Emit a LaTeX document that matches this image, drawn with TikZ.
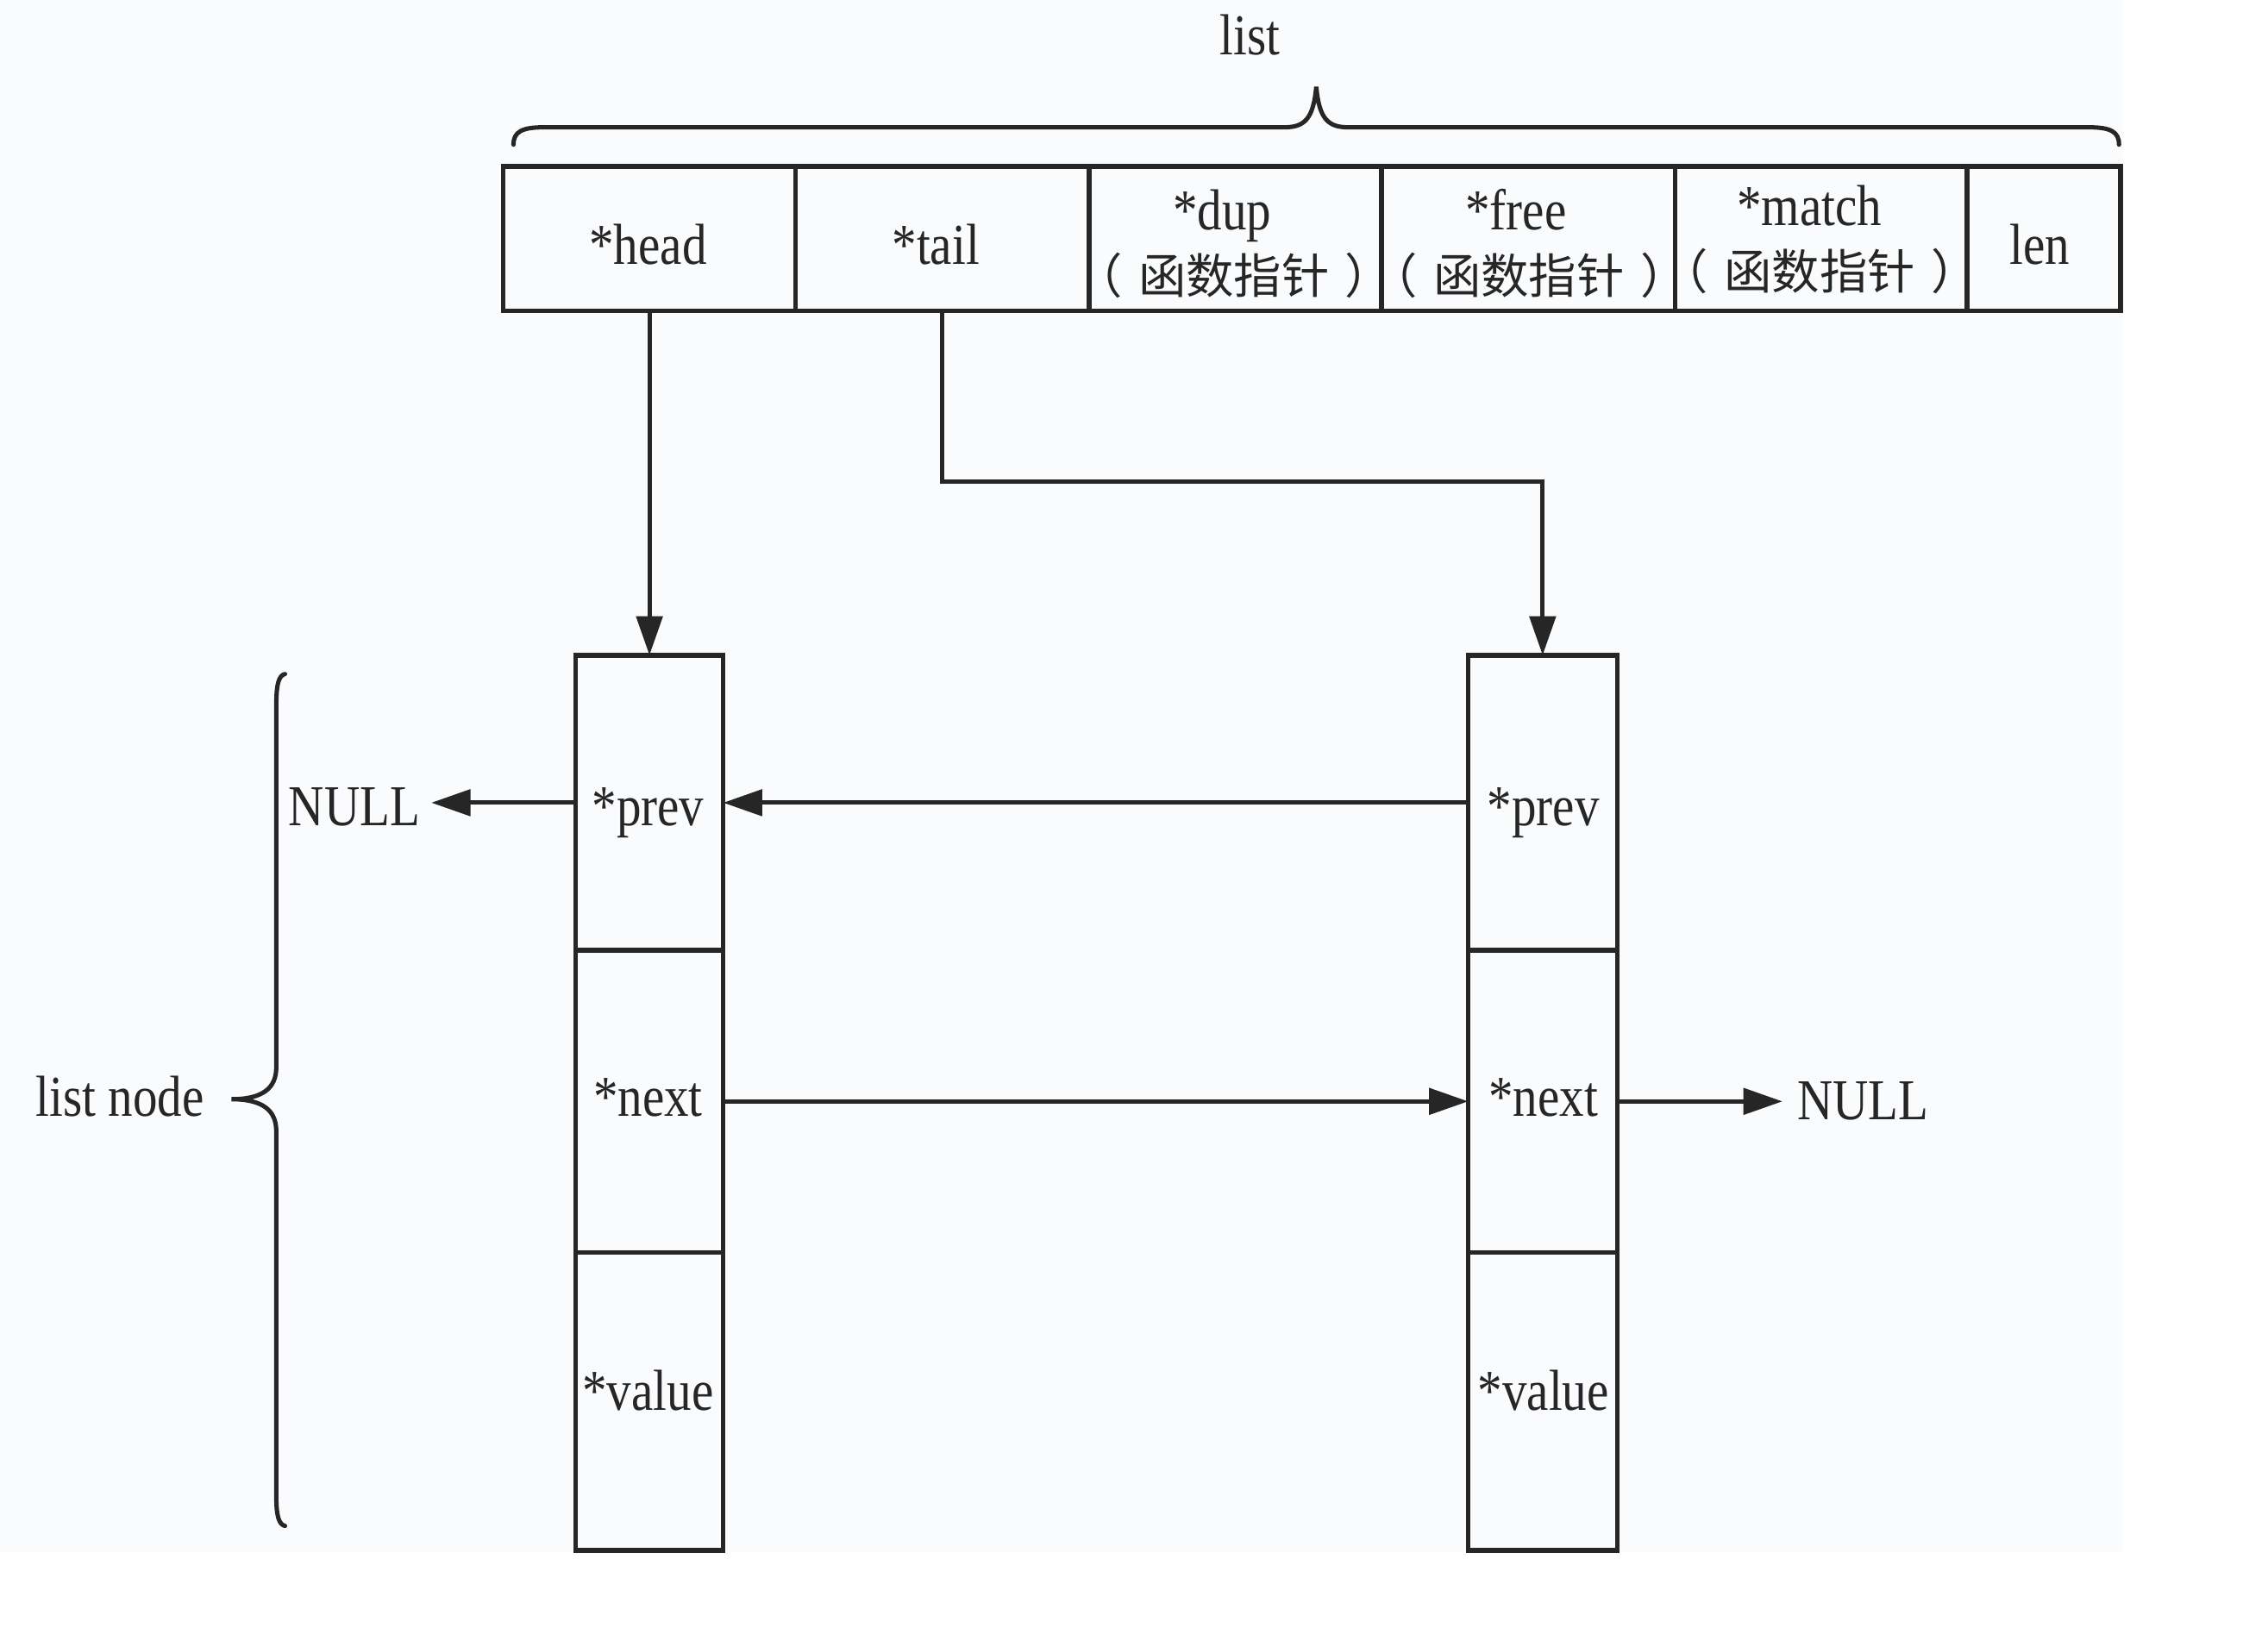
\documentclass[tikz,border=0pt]{standalone}
\usepackage{fontspec}
\setmainfont{Liberation Serif}[FakeStretch=0.85]
\newfontfamily\cjk{Noto Sans CJK SC}
\usetikzlibrary{arrows.meta}
\definecolor{bgc}{HTML}{FAFBFD}
\definecolor{ink}{HTML}{262626}
\newcommand{\fnptr}{（\hspace{5.5pt}函数指针\hspace{5.5pt}）}
\begin{document}
\begin{tikzpicture}[x=0.5pt,y=-0.5pt,
  box/.style={draw=ink,line width=1.6pt,inner sep=0pt,outer sep=0pt,minimum height=50pt},
  col/.style={draw=ink,line width=1.6pt,inner sep=0pt,outer sep=0pt},
  txt/.style={text=ink,font=\fontsize{20}{24}\selectfont,inner sep=0pt,anchor=base},
  zh/.style={text=ink,font=\cjk\fontsize{16.5}{19}\selectfont,inner sep=0pt,anchor=base},
  arr/.style={draw=ink,line width=1.5pt,-{Triangle[length=13.5pt,width=9pt]}},
  brc/.style={draw=ink,line width=1.5pt,line cap=round}]
\useasboundingbox (0,0) rectangle (1568,1125.6);
\fill[white] (0,0) rectangle (1568,1125.6);
\fill[bgc] (0,0) rectangle (1468,1073);

% top structure cells
\node[box,minimum width=101pt] (head) at (449,165) {};
\node[box,minimum width=101.5pt] (tail) at (651.5,165) {};
\node[box,minimum width=101pt] (dup) at (854,165) {};
\node[box,minimum width=101.5pt] (free) at (1056.5,165) {};
\node[box,minimum width=101pt] (match) at (1259,165) {};
\node[box,minimum width=53pt] (len) at (1413,165) {};

\node[txt] (headT) at (448,183) {*head};
\node[txt] (tailT) at (647,183) {*tail};
\node[txt] (dupT) at (845,159) {*dup};
\node[zh] (dupZ) at (853,203) {\fnptr};
\node[txt] (freeT) at (1048,159) {*free};
\node[zh] (freeZ) at (1057,203) {\fnptr};
\node[txt] (matchT) at (1251,156) {*match};
\node[zh] (matchZ) at (1258,200) {\fnptr};
\node[txt] (lenT) at (1410,183) {len};

% list nodes
\node[col,minimum width=51pt,minimum height=102pt] (lp) at (449,555) {};
\node[col,minimum width=51pt,minimum height=104.5pt] (ln) at (449,761.5) {};
\node[col,minimum width=51pt,minimum height=103pt] (lv) at (449,969) {};
\node[col,minimum width=51.5pt,minimum height=102pt] (rp) at (1066.5,555) {};
\node[col,minimum width=51.5pt,minimum height=104.5pt] (rn) at (1066.5,761.5) {};
\node[col,minimum width=51.5pt,minimum height=103pt] (rv) at (1066.5,969) {};

\node[txt] (lpT) at (448,571) {*prev};
\node[txt] (lnT) at (448,772) {*next};
\node[txt] (lvT) at (448,975) {*value};
\node[txt] (rpT) at (1067,571) {*prev};
\node[txt] (rnT) at (1067,772) {*next};
\node[txt] (rvT) at (1067,975) {*value};

\node[txt,inner sep=3.75pt] (nullL) at (245,571) {NULL};
\node[txt,inner sep=5pt] (nullR) at (1288,774) {NULL};

\node[txt] (listT) at (864,38) {list};
\node[txt] (listnodeT) at (83,772) {list node};

% connectors
\coordinate (tbend) at (651.5,333);
\draw[arr] (head.south) -- (lp.north);
\draw[arr] (tail.south) -- (tbend) -| (rp.north);
\draw[arr] (rp.west) -- (lp.east);
\draw[arr] (lp.west) -- (lp.west -| nullL.east);
\draw[arr] (ln.east) -- (rn.west);
\draw[arr] (rn.east) -- (rn.east -| nullR.west);

% braces
\draw[brc] (355,100) .. controls (355,91) and (361,88) .. (376,88) -- (888,88)
  .. controls (902,88) and (908,82) .. (910,60)
  .. controls (912,82) and (918,88) .. (932,88) -- (1444,88)
  .. controls (1459,88) and (1465,91) .. (1465,100);
\draw[brc] (197,466) .. controls (193,467) and (191,472) .. (191,488) -- (191,738)
  .. controls (191,752) and (182,760) .. (160,760)
  .. controls (182,760) and (191,768) .. (191,782) -- (191,1034)
  .. controls (191,1049) and (193,1054) .. (197,1055);
\end{tikzpicture}
\end{document}
